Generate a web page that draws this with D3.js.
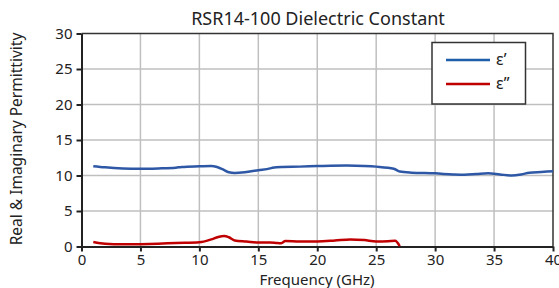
<!DOCTYPE html>
<html>
<head>
<meta charset="utf-8">
<script src="https://cdn.jsdelivr.net/npm/d3@7"></script>
<style>
  body { margin: 0; background: #fff; }
  text { font-family: "Noto Sans", sans-serif; fill: #222; }
</style>
</head>
<body>
<div class="canvas"></div>
<script>
// real part (eps'), [GHz, value]
var epsReal = [[1, 11.3], [2, 11.15], [3.5, 11.0], [5, 10.95], [6.5, 11.0], [8, 11.1],
    [8.5, 11.2], [10, 11.3], [11, 11.35], [11.5, 11.2], [12, 10.85], [12.5, 10.45], [13, 10.35],
    [14, 10.5], [15, 10.75], [16, 11.0], [16.2, 11.1], [17, 11.2], [18.5, 11.25],
    [20, 11.33], [22.5, 11.42], [24, 11.35], [25, 11.25], [26.5, 10.95], [27, 10.55],
    [28, 10.4], [30, 10.3], [31.5, 10.15], [32.5, 10.1], [33.5, 10.2], [34.5, 10.3],
    [35.5, 10.15], [36.5, 10.0], [37.3, 10.15], [38, 10.4], [39, 10.5], [40, 10.6]];
// imaginary part (eps'')
var epsImag = [[1, 0.63], [2, 0.38], [3.5, 0.3], [5, 0.33], [6.5, 0.4], [8, 0.5],
    [10, 0.6], [11, 1.0], [11.6, 1.35], [12.1, 1.48], [12.5, 1.3], [13, 0.85], [14, 0.7],
    [15, 0.55], [16, 0.55], [16.5, 0.5], [16.9, 0.45], [17.3, 0.78], [18.5, 0.72],
    [20, 0.72], [21.5, 0.85], [22.8, 1.0], [24, 0.9], [25, 0.72], [26, 0.75], [26.6, 0.8],
    [27, 0.05]];
var xTicks = [0, 5, 10, 15, 20, 25, 30, 35, 40];
var yTicks = [0, 5, 10, 15, 20, 25, 30];
var seriesNames = ["\u03b5\u2019", "\u03b5\u201d"];
var seriesColors = ["#1f5ea8", "#c00000"];

var width = 559, height = 288;
var padL = 81.5, padR = 553, padT = 33.5, padB = 246.5;

var svg = d3.select(".canvas").append("svg")
    .attr("width", width)
    .attr("height", height);

var x = d3.scaleLinear().domain([0, 40]).range([padL, padR]);
var y = d3.scaleLinear().domain([0, 30]).range([padB, padT]);

// grid
svg.append("g").selectAll("line").data(xTicks.slice(1, -1)).enter().append("line")
   .attr("x1", function (d) { return x(d); })
   .attr("x2", function (d) { return x(d); })
   .attr("y1", padT).attr("y2", padB)
   .attr("stroke", "#bfbfbf").attr("stroke-width", 1.5);
svg.append("g").selectAll("line").data(yTicks.slice(1, -1)).enter().append("line")
   .attr("y1", function (d) { return y(d); })
   .attr("y2", function (d) { return y(d); })
   .attr("x1", padL).attr("x2", padR)
   .attr("stroke", "#bfbfbf").attr("stroke-width", 1.5);

// frame top/right
svg.append("path")
   .attr("d", "M" + padL + "," + padT + "H" + padR + "V" + padB)
   .attr("fill", "none").attr("stroke", "#333").attr("stroke-width", 1.5);

var xAxis = svg.append("g")
    .attr("transform", "translate(0," + padB + ")")
    .call(d3.axisBottom(x).tickValues(xTicks).tickSize(5).tickSizeOuter(0));
var yAxis = svg.append("g")
    .attr("transform", "translate(" + padL + ",0)")
    .call(d3.axisLeft(y).tickValues(yTicks).tickSize(5).tickSizeOuter(0));
[xAxis, yAxis].forEach(function (g) {
    g.select(".domain").attr("stroke", "#222").attr("stroke-width", 2);
    g.selectAll(".tick line").attr("stroke", "#222").attr("stroke-width", 2);
    g.selectAll(".tick text").style("font-family", "Noto Sans, sans-serif")
     .style("font-size", "15px").attr("fill", "#222");
});
xAxis.selectAll(".tick text").attr("dy", "0.72em");
yAxis.selectAll(".tick text").attr("dx", "-1px");

var line = d3.line()
    .x(function (d) { return x(d[0]); })
    .y(function (d) { return y(d[1]); })
    .curve(d3.curveMonotoneX);

[epsReal, epsImag].forEach(function (s, i) {
    svg.append("path")
       .datum(s)
       .attr("d", line)
       .attr("fill", "none")
       .attr("stroke", i == 0 ? "#2e58a6" : seriesColors[1])
       .attr("stroke-width", 2.5);
});

// titles
svg.append("text").attr("x", 318).attr("y", 25)
   .attr("text-anchor", "middle").style("font-size", "18px")
   .text("RSR14-100 Dielectric Constant");
svg.append("text").attr("x", 317).attr("y", 285)
   .attr("text-anchor", "middle").style("font-size", "15px")
   .text("Frequency (GHz)");
svg.append("text")
   .attr("transform", "translate(22,139) rotate(-90)")
   .attr("text-anchor", "middle").style("font-size", "15.5px")
   .text("Real & Imaginary Permittivity");

// legend
var lg = svg.append("g");
lg.append("rect").attr("x", 432).attr("y", 42.5).attr("width", 93.5).attr("height", 61.5)
  .attr("fill", "#fff").attr("stroke", "#333").attr("stroke-width", 1.5);
seriesNames.forEach(function (name, i) {
    var ly = 60 + i * 24;
    lg.append("line").attr("x1", 446).attr("x2", 490).attr("y1", ly).attr("y2", ly)
      .attr("stroke", seriesColors[i]).attr("stroke-width", 2.5);
    lg.append("text").attr("x", 496).attr("y", ly + 5).style("font-size", "16px").text(name);
});
</script>
</body>
</html>
